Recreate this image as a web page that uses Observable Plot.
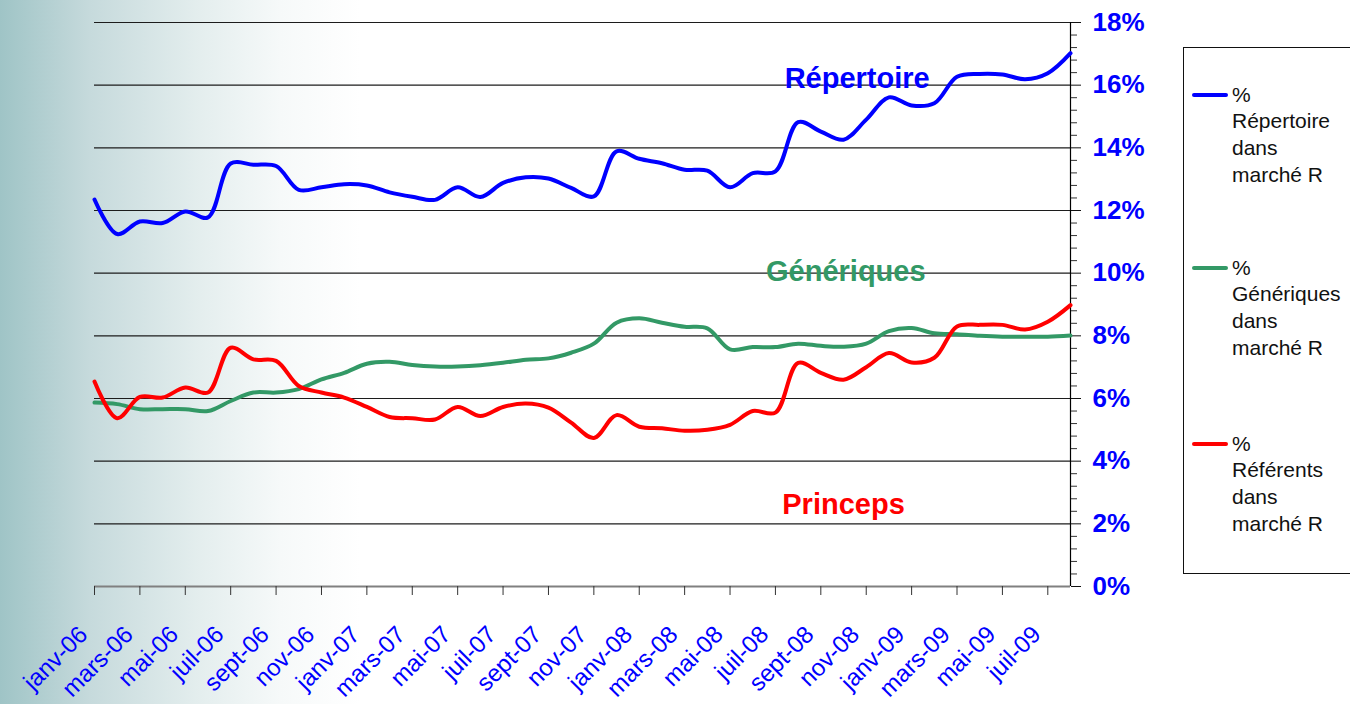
<!DOCTYPE html>
<html>
<head>
<meta charset="utf-8">
<script src="https://cdn.jsdelivr.net/npm/d3@7"></script>
<script src="https://cdn.jsdelivr.net/npm/@observablehq/plot@0.6"></script>
<style>
  html, body { margin: 0; padding: 0; background: #ffffff; }
  #wrap {
    position: relative; width: 1350px; height: 704px; overflow: hidden;
    background: linear-gradient(to right, #9fc4c6 0px, #c6dadc 90px, #e4eeee 200px, #f6f9f9 280px, #ffffff 360px);
    font-family: "Liberation Sans", Arial, sans-serif;
  }
  #chart svg { display: block; }
  #legend {
    position: absolute; left: 1183px; top: 47px; width: 200px; height: 527px;
    border: 1px solid #111; box-sizing: border-box; background: #ffffff;
  }
  .entry { position: absolute; left: 48px; font-size: 21px; line-height: 26.7px; color: #111; white-space: nowrap; }
  .swatch { position: absolute; left: 8px; width: 36px; height: 4px; border-radius: 2px; }
</style>
</head>
<body>
<div id="wrap"><div id="chart"></div><div id="legend"></div></div>
<script>
// Months (category axis)
const months = [
  "janv-06","févr-06","mars-06","avr-06","mai-06","juin-06","juil-06","août-06","sept-06","oct-06","nov-06","déc-06",
  "janv-07","févr-07","mars-07","avr-07","mai-07","juin-07","juil-07","août-07","sept-07","oct-07","nov-07","déc-07",
  "janv-08","févr-08","mars-08","avr-08","mai-08","juin-08","juil-08","août-08","sept-08","oct-08","nov-08","déc-08",
  "janv-09","févr-09","mars-09","avr-09","mai-09","juin-09","juil-09","août-09"
];

// Series values (% of market R)
const repertoire = [12.35, 11.25, 11.65, 11.6, 11.97, 11.78, 13.5, 13.46, 13.42, 12.66,
  12.74, 12.84, 12.8, 12.58, 12.44, 12.34, 12.74, 12.43, 12.88, 13.06,
  13.02, 12.72, 12.45, 13.89, 13.65, 13.51, 13.3, 13.27, 12.74, 13.19,
  13.25, 14.82, 14.52, 14.26, 14.9, 15.61, 15.35, 15.42, 16.27, 16.36,
  16.34, 16.19, 16.38, 17.02];
const generiques = [5.87, 5.82, 5.66, 5.66, 5.66, 5.6, 5.92, 6.19, 6.19, 6.3,
  6.61, 6.82, 7.11, 7.17, 7.07, 7.02, 7.02, 7.06, 7.14, 7.24,
  7.28, 7.46, 7.75, 8.42, 8.56, 8.42, 8.29, 8.24, 7.57, 7.64,
  7.64, 7.75, 7.68, 7.65, 7.75, 8.15, 8.25, 8.08, 8.05, 8.0,
  7.97, 7.97, 7.97, 8.01];
const referents = [6.54, 5.37, 6.05, 6.03, 6.35, 6.19, 7.62, 7.25, 7.2, 6.4,
  6.19, 6.03, 5.73, 5.41, 5.37, 5.33, 5.73, 5.44, 5.73, 5.84,
  5.71, 5.23, 4.74, 5.47, 5.1, 5.05, 4.97, 5.0, 5.16, 5.6,
  5.55, 7.14, 6.82, 6.6, 7.0, 7.45, 7.15, 7.3, 8.3, 8.35,
  8.35, 8.2, 8.45, 8.98];

// Series names, legend names, colours
const seriesNames = ["Répertoire", "Génériques", "Princeps"];
const legendNames = ["Répertoire", "Génériques", "Référents"];
const seriesColors = ["#0000ff", "#339966", "#ff0000"];
const seriesValues = [repertoire, generiques, referents];

// In-chart label anchors (data coordinates: month index, %)
const labelMonth = [33.6, 33.1, 33.0];
const labelValue = [16.2, 10.06, 2.61];

// Axis ticks
const yMajor = [0, 2, 4, 6, 8, 10, 12, 14, 16, 18];
const yMinor = d3.range(0, 46).filter(k => k % 5 !== 0).map(k => k * 0.4);
const xTicks = d3.range(0, months.length, 2);

const marks = [
  Plot.gridY(yMajor.filter(d => d > 0), {stroke: "#1c1c1c", strokeOpacity: 1, strokeWidth: 1.2}),
  Plot.ruleY([0], {stroke: "#808080", strokeWidth: 2}),
  Plot.ruleX([months.length - 1], {stroke: "#000", strokeWidth: 1.2}),
  Plot.axisX(xTicks, {tickSize: 9, stroke: "#333", fill: null}),
  Plot.axisX(xTicks, {
    tickSize: 0, tickPadding: 0, tickRotate: -45, textAnchor: "end", lineAnchor: "middle",
    dx: -11, dy: 44, fontSize: 24, fill: "#0000ff", tickFormat: i => months[i]
  }),
  Plot.axisY(yMinor, {anchor: "right", tickSize: 6, stroke: "#333", fill: null}),
  Plot.axisY(yMajor, {
    anchor: "right", tickSize: 10, tickPadding: 12, stroke: "#111",
    fill: "#0000ff", fontSize: 26, fontWeight: "bold", tickFormat: d => d + "%"
  })
];

seriesValues.forEach((vals, s) => {
  const rows = vals.map((v, i) => ({i, v}));
  marks.push(Plot.line(rows, {x: "i", y: "v", stroke: seriesColors[s], strokeWidth: 4, curve: "catmull-rom"}));
});
seriesNames.forEach((name, s) => {
  marks.push(Plot.text([name], {
    x: () => labelMonth[s], y: () => labelValue[s], text: d => d,
    fill: seriesColors[s], fontSize: 29, fontWeight: "bold"
  }));
});

const chart = Plot.plot({
  width: 1350, height: 704,
  marginTop: 22, marginRight: 280, marginBottom: 118, marginLeft: 94,
  x: {type: "linear", domain: [0, months.length - 1], label: null},
  y: {domain: [0, 18], label: null},
  style: {background: "transparent", fontFamily: "'Liberation Sans', Arial, sans-serif", overflow: "visible"},
  marks
});
document.getElementById("chart").appendChild(chart);

// Legend (HTML, right side)
const legend = document.getElementById("legend");
const centers = [95, 268, 444];
legendNames.forEach((name, s) => {
  const sw = document.createElement("div");
  sw.className = "swatch";
  sw.style.background = seriesColors[s];
  sw.style.top = (centers[s] - 2 - 48) + "px";
  legend.appendChild(sw);
  const t = document.createElement("div");
  t.className = "entry";
  t.style.top = (centers[s] - 13.35 - 48) + "px";
  t.innerHTML = ["%", name, "dans", "marché R"].join("<br>");
  legend.appendChild(t);
});
</script>
</body>
</html>
